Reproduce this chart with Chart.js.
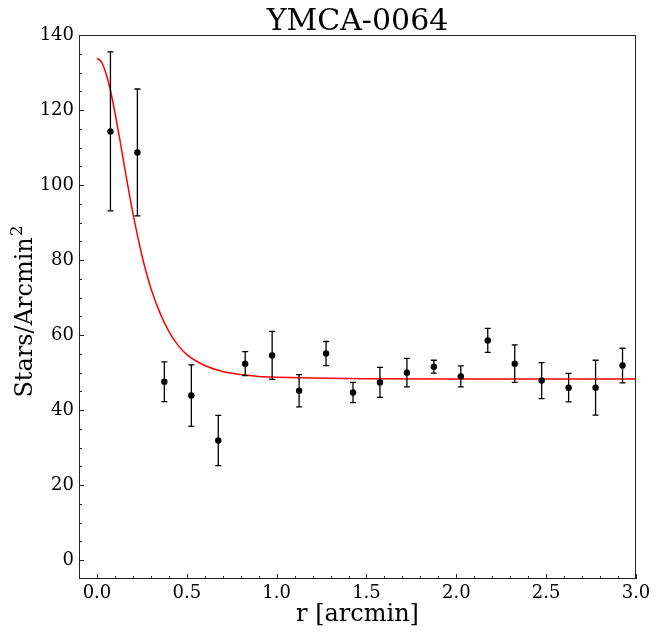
<!DOCTYPE html>
<html>
<head>
<meta charset="utf-8">
<script src="https://cdn.jsdelivr.net/npm/chart.js@4.4.1/dist/chart.umd.min.js"></script>
<style>
  html, body { margin: 0; padding: 0; background: #ffffff; }
  #wrap { width: 656px; height: 634px; }
</style>
</head>
<body>
<div id="wrap"><canvas id="c" width="656" height="634"></canvas></div>
<script>
// ---- data ----
const titleText = "YMCA-0064";
const xLabel = "r [arcmin]";
const yLabelMain = "Stars/Arcmin";
const yLabelSup = "2";

const radii = [0.075, 0.225, 0.375, 0.525, 0.675, 0.825, 0.975, 1.125, 1.275, 1.425,
               1.575, 1.725, 1.875, 2.025, 2.175, 2.325, 2.475, 2.625, 2.775, 2.925];
const density = [114.3, 108.7, 47.6, 43.9, 31.9, 52.4, 54.6, 45.2, 55.1, 44.7,
                 47.4, 50.0, 51.6, 49.0, 58.6, 52.4, 47.9, 46.0, 46.0, 51.9];
const densityErr = [21.2, 16.9, 5.3, 8.2, 6.7, 3.2, 6.4, 4.3, 3.2, 2.7,
                    4.0, 3.8, 1.7, 2.8, 3.2, 5.0, 4.8, 3.8, 7.3, 4.6];

// fitted profile curve
const curveR = [0, 0.025, 0.05, 0.075, 0.1, 0.125, 0.15, 0.2, 0.25, 0.3, 0.35, 0.4, 0.45, 0.5,
                0.6, 0.7, 0.8, 0.9, 1.0, 1.2, 1.5, 2.0, 2.5, 3.0];
const curveY = [133.8, 132.8, 129.8, 125.2, 119.3, 112.8, 105.8, 92.5, 81.3, 72.5, 66.0, 61.0, 57.4, 54.8,
                51.9, 50.3, 49.5, 49.0, 48.8, 48.55, 48.4, 48.32, 48.3, 48.3];

const xTicks = [0.0, 0.5, 1.0, 1.5, 2.0, 2.5, 3.0];
const yTicks = [0, 20, 40, 60, 80, 100, 120, 140];
const xMinorTicks = [-0.1, 0.1, 0.2, 0.3, 0.4, 0.6, 0.7, 0.8, 0.9, 1.1, 1.2, 1.3, 1.4,
                     1.6, 1.7, 1.8, 1.9, 2.1, 2.2, 2.3, 2.4, 2.6, 2.7, 2.8, 2.9];
const yMinorTicks = [5, 10, 15, 25, 30, 35, 45, 50, 55, 65, 70, 75, 85, 90, 95,
                     105, 110, 115, 125, 130, 135];

const FONT = "'DejaVu Serif', serif";

const points = radii.map((r, i) => ({ x: r, y: density[i] }));
const curve = curveR.map((r, i) => ({ x: r, y: curveY[i] }));

const decorPlugin = {
  id: 'decor',
  afterDatasetsDraw(chart) {
    const ctx = chart.ctx;
    const xs = chart.scales.x, ys = chart.scales.y;
    ctx.save();
    // error bars
    ctx.strokeStyle = '#000';
    ctx.lineWidth = 1.3;
    radii.forEach((r, i) => {
      const px = xs.getPixelForValue(r);
      const top = ys.getPixelForValue(density[i] + densityErr[i]);
      const bot = ys.getPixelForValue(density[i] - densityErr[i]);
      ctx.beginPath();
      ctx.moveTo(px, top); ctx.lineTo(px, bot);
      ctx.moveTo(px - 3, top); ctx.lineTo(px + 3, top);
      ctx.moveTo(px - 3, bot); ctx.lineTo(px + 3, bot);
      ctx.stroke();
    });
    // markers on top
    ctx.fillStyle = '#000';
    radii.forEach((r, i) => {
      ctx.beginPath();
      ctx.arc(xs.getPixelForValue(r), ys.getPixelForValue(density[i]), 3.2, 0, Math.PI * 2);
      ctx.fill();
    });
    ctx.restore();
  },
  afterDraw(chart) {
    const ctx = chart.ctx;
    const xs = chart.scales.x, ys = chart.scales.y;
    const a = chart.chartArea;
    ctx.save();
    // frame
    ctx.strokeStyle = '#222';
    ctx.lineWidth = 1;
    ctx.strokeRect(a.left + 0.5, a.top + 0.5, a.right - a.left - 1, a.bottom - a.top - 1);
    // inward ticks
    ctx.beginPath();
    xTicks.forEach(v => { const p = Math.round(xs.getPixelForValue(v)) + 0.5; ctx.moveTo(p, a.bottom); ctx.lineTo(p, a.bottom - 5); });
    xMinorTicks.forEach(v => { const p = Math.round(xs.getPixelForValue(v)) + 0.5; ctx.moveTo(p, a.bottom); ctx.lineTo(p, a.bottom - 3); });
    yTicks.forEach(v => { const p = Math.round(ys.getPixelForValue(v)) + 0.5; ctx.moveTo(a.left, p); ctx.lineTo(a.left + 5, p); });
    yMinorTicks.forEach(v => { const p = Math.round(ys.getPixelForValue(v)) + 0.5; ctx.moveTo(a.left, p); ctx.lineTo(a.left + 3, p); });
    ctx.stroke();
    // title
    ctx.fillStyle = '#000';
    ctx.textAlign = 'center';
    ctx.textBaseline = 'alphabetic';
    const cx = (a.left + a.right) / 2;
    ctx.font = "30px " + FONT;
    ctx.fillText(titleText, cx, 30);
    // x label
    ctx.font = "24px " + FONT;
    ctx.fillText(xLabel, cx, 621);
    // y label, rotated, with superscript
    ctx.translate(32, (a.top + a.bottom) / 2 + 5);
    ctx.rotate(-Math.PI / 2);
    ctx.font = "24px " + FONT;
    const wMain = ctx.measureText(yLabelMain).width;
    ctx.font = "17px " + FONT;
    const wSup = ctx.measureText(yLabelSup).width;
    const total = wMain + wSup;
    ctx.textAlign = 'left';
    ctx.font = "24px " + FONT;
    ctx.fillText(yLabelMain, -total / 2, 0);
    ctx.font = "17px " + FONT;
    ctx.fillText(yLabelSup, -total / 2 + wMain + 1, -10);
    ctx.restore();
  }
};

new Chart(document.getElementById('c'), {
  type: 'scatter',
  data: {
    datasets: [
      {
        type: 'line',
        data: curve,
        borderColor: '#ff0000',
        borderWidth: 1.5,
        pointRadius: 0,
        fill: false,
        cubicInterpolationMode: 'monotone',
        order: 1
      },
      {
        type: 'scatter',
        data: points,
        pointRadius: 0,
        backgroundColor: '#000',
        borderColor: '#000',
        order: 2
      }
    ]
  },
  options: {
    responsive: false,
    animation: false,
    devicePixelRatio: 1,
    layout: { padding: { left: 0, top: 35, right: 20, bottom: 0 } },
    plugins: { legend: { display: false }, tooltip: { enabled: false }, title: { display: false } },
    scales: {
      x: {
        type: 'linear',
        min: -0.1, max: 3.0,
        afterBuildTicks: s => { s.ticks = xTicks.map(v => ({ value: v })); },
        afterFit: s => { s.height = 55; },
        grid: { display: false, drawTicks: false },
        border: { display: false },
        ticks: {
          color: '#000',
          font: { family: FONT, size: 18 },
          padding: 4,
          maxRotation: 0,
          autoSkip: false,
          callback: v => Number(v).toFixed(1)
        }
      },
      y: {
        type: 'linear',
        min: -5, max: 140,
        afterBuildTicks: s => { s.ticks = yTicks.map(v => ({ value: v })); },
        afterFit: s => { s.width = 79; },
        grid: { display: false, drawTicks: false },
        border: { display: false },
        ticks: {
          color: '#000',
          font: { family: FONT, size: 18 },
          padding: 5,
          autoSkip: false,
          callback: v => String(v)
        }
      }
    }
  },
  plugins: [decorPlugin]
});
</script>
</body>
</html>
